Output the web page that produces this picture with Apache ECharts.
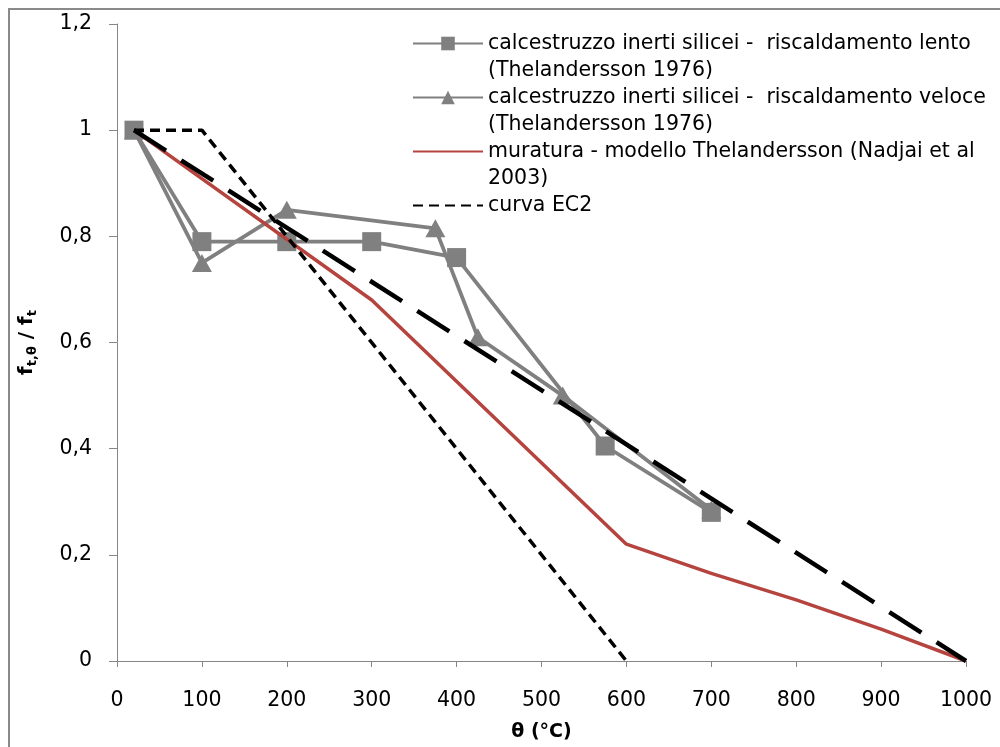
<!DOCTYPE html>
<html>
<head>
<meta charset="utf-8">
<script src="https://cdn.jsdelivr.net/npm/echarts@6/dist/echarts.min.js"></script>
<style>
html,body{margin:0;padding:0;background:#fff;}
#c{width:1000px;height:747px;}
</style>
</head>
<body>
<div id="c"></div>
<script>
// ---- data ----
const xTicks = [0, 100, 200, 300, 400, 500, 600, 700, 800, 900, 1000];
const yTickLabels = ['0', '0,2', '0,4', '0,6', '0,8', '1', '1,2'];

const slowName = 'calcestruzzo inerti silicei -  riscaldamento lento\n(Thelandersson 1976)';
const slowX = [20, 100, 200, 300, 400, 575, 700];
const slowY = [1, 0.79, 0.79, 0.79, 0.76, 0.405, 0.28];

const fastName = 'calcestruzzo inerti silicei -  riscaldamento veloce\n(Thelandersson 1976)';
const fastX = [20, 100, 200, 375, 425, 525, 700];
const fastY = [1, 0.75, 0.85, 0.815, 0.61, 0.5, 0.285];

const masonryName = 'muratura - modello Thelandersson (Nadjai et al\n2003)';
const masonryX = [20, 300, 600, 700, 800, 900, 1000];
const masonryY = [1, 0.68, 0.22, 0.165, 0.115, 0.06, 0];

const ec2Name = 'curva EC2';
const ec2X = [20, 100, 600];
const ec2Y = [1, 1, 0];

const linearX = [20, 1000];
const linearY = [1, 0];

function pairs(xs, ys) { return xs.map((x, i) => [x, ys[i]]); }

const FONT = 'DejaVu Sans';
const chart = echarts.init(document.getElementById('c'), null, {renderer: 'canvas'});

const option = {
  backgroundColor: '#fff',
  animation: false,
  graphic: [{
    type: 'rect', z: -10, silent: true,
    shape: {x: 9, y: 9, width: 1200, height: 1000},
    style: {fill: 'none', stroke: '#8a8a8a', lineWidth: 2}
  }],
  grid: {left: 117, right: 34, top: 24, bottom: 86, containLabel: false},
  legend: {
    orient: 'vertical',
    left: 412, top: 3, padding: 0,
    itemWidth: 70, itemHeight: 17, itemGap: -27,
    data: [
      {name: slowName},
      {name: fastName},
      {name: masonryName, itemStyle: {opacity: 0}},
      {name: ec2Name, itemStyle: {opacity: 0}}
    ],
    formatter: function (name) {
      if (name === ec2Name) return '\n' + name + '\n';
      return '\n' + name;
    },
    textStyle: {fontFamily: FONT, fontSize: 20.5, color: '#000', lineHeight: 27}
  },
  xAxis: {
    type: 'value', min: 0, max: 1000, interval: 100,
    name: 'θ (°C)', nameLocation: 'middle', nameGap: 62,
    nameTextStyle: {fontFamily: FONT, fontSize: 19, fontWeight: 'bold', color: '#000'},
    axisLine: {show: true, lineStyle: {color: '#868686', width: 1}},
    axisTick: {show: true, length: 6, lineStyle: {color: '#868686'}},
    axisLabel: {fontFamily: FONT, fontSize: 20.5, color: '#000', margin: 29,
      formatter: function (v) { return String(v); }},
    splitLine: {show: false}
  },
  yAxis: {
    type: 'value', min: 0, max: 1.2, interval: 0.2,
    name: '{m|f}{s|t,θ}{m| / f}{s|t}', nameLocation: 'middle', nameRotate: 90, nameGap: 78,
    nameTextStyle: {
      rich: {
        m: {fontFamily: FONT, fontSize: 20, fontWeight: 'bold', color: '#000', lineHeight: 24},
        s: {fontFamily: FONT, fontSize: 13, fontWeight: 'bold', color: '#000', lineHeight: 14, verticalAlign: 'bottom'}
      }
    },
    axisLine: {show: true, lineStyle: {color: '#868686', width: 1}},
    axisTick: {show: true, length: 8, lineStyle: {color: '#868686'}},
    axisLabel: {fontFamily: FONT, fontSize: 20.5, color: '#000', margin: 25,
      formatter: function (v) {
        const idx = Math.round(v / 0.2);
        return yTickLabels[idx] !== undefined ? yTickLabels[idx] : '';
      }},
    splitLine: {show: false}
  },
  series: [
    {
      name: fastName, type: 'line', data: pairs(fastX, fastY), z: 2,
      symbol: 'triangle', symbolSize: [20, 18],
      itemStyle: {color: '#808080'},
      lineStyle: {color: '#808080', width: 3.8}
    },
    {
      name: slowName, type: 'line', data: pairs(slowX, slowY), z: 3,
      symbol: 'rect', symbolSize: 19,
      itemStyle: {color: '#808080'},
      lineStyle: {color: '#808080', width: 3.8}
    },
    {
      name: masonryName, type: 'line', data: pairs(masonryX, masonryY), z: 4,
      symbol: 'none', showSymbol: false,
      itemStyle: {color: '#b5443f'},
      lineStyle: {color: '#b5443f', width: 3.5}
    },
    {
      name: ec2Name, type: 'line', data: pairs(ec2X, ec2Y), z: 5,
      symbol: 'none', showSymbol: false,
      itemStyle: {color: '#000'},
      lineStyle: {color: '#000', width: 3.5, type: [10, 6]}
    },
    {
      name: 'lineare', type: 'line', data: pairs(linearX, linearY), z: 6,
      symbol: 'none', showSymbol: false,
      itemStyle: {color: '#000'},
      lineStyle: {color: '#000', width: 4.5, type: [38, 18]}
    }
  ]
};
chart.setOption(option);
</script>
</body>
</html>
